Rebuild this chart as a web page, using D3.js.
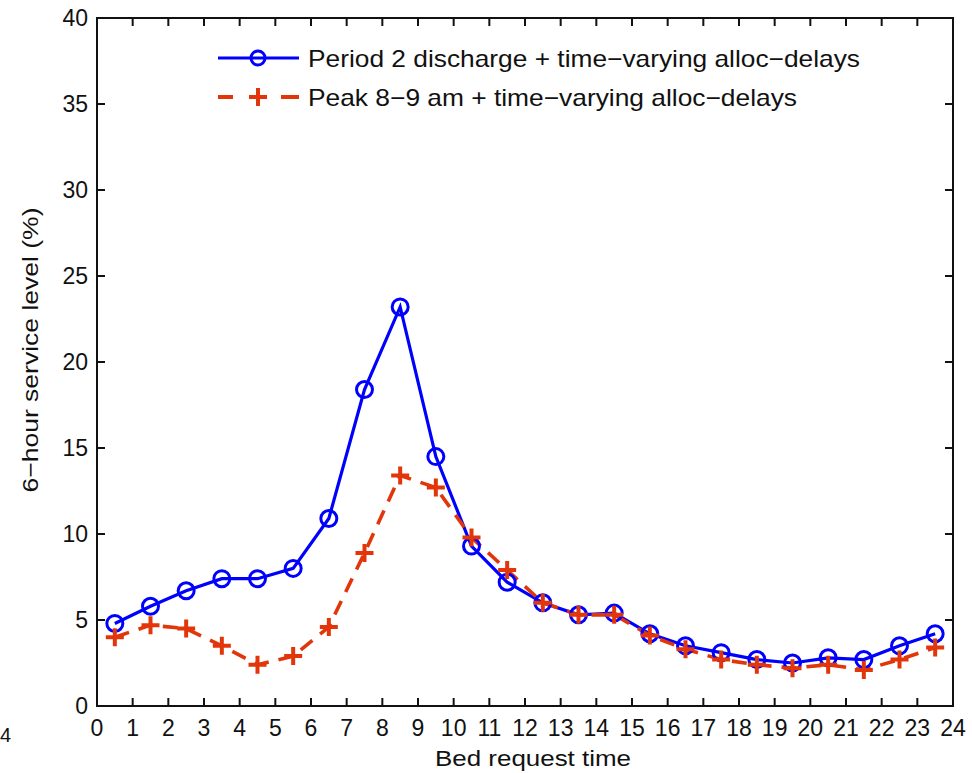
<!DOCTYPE html>
<html><head><meta charset="utf-8">
<script src="https://cdn.jsdelivr.net/npm/d3@7"></script>
<style>body{margin:0;background:#fff}svg{display:block}text{font-family:Arial,"Liberation Sans",sans-serif;fill:#111}</style>
</head><body><svg id="c" width="972" height="773"></svg>
<script>
const hours = [0.5,1.5,2.5,3.5,4.5,5.5,6.5,7.5,8.5,9.5,10.5,11.5,12.5,13.5,14.5,15.5,16.5,17.5,18.5,19.5,20.5,21.5,22.5,23.5];
const period2 = [4.8,5.8,6.7,7.4,7.4,8.0,10.9,18.4,23.2,14.5,9.3,7.2,6.0,5.3,5.4,4.2,3.5,3.1,2.7,2.5,2.8,2.7,3.5,4.2];
const peak89 = [4.0,4.7,4.5,3.5,2.4,2.9,4.6,8.9,13.4,12.7,9.8,7.9,6.0,5.3,5.3,4.1,3.3,2.7,2.4,2.2,2.4,2.1,2.7,3.4];
const xTicks = d3.range(0,25,1);
const yTicks = d3.range(0,41,5);
const legendLabels = ["Period 2 discharge + time\u2212varying alloc\u2212delays","Peak 8\u22129 am + time\u2212varying alloc\u2212delays"];
const xLabel = "Bed request time";
const yLabel = "6\u2212hour service level (%)";

const svg = d3.select("#c");
const L=97,R=953,T=18,B=706;
const x = d3.scaleLinear().domain([0,24]).range([L,R]);
const y = d3.scaleLinear().domain([0,40]).range([B,T]);
const blue="#0000ff", red="#e2360a";

// lines
const line = d3.line().x((d,i)=>x(hours[i])).y(d=>y(d));
svg.append("path").datum(period2).attr("d",line).attr("fill","none").attr("stroke",blue).attr("stroke-width",3.2);
svg.append("path").datum(peak89).attr("d",line).attr("fill","none").attr("stroke",red).attr("stroke-width",3.6).attr("stroke-dasharray","15,10");
// markers
svg.selectAll("circle.m").data(period2).join("circle").attr("class","m")
  .attr("cx",(d,i)=>x(hours[i])).attr("cy",d=>y(d)).attr("r",8).attr("fill","none").attr("stroke",blue).attr("stroke-width",3);
const plus = (g,cx,cy,s)=>{g.append("path").attr("d",`M${cx-s},${cy}H${cx+s}M${cx},${cy-s}V${cy+s}`).attr("stroke",red).attr("stroke-width",4).attr("fill","none");};
const pg = svg.append("g");
peak89.forEach((d,i)=>plus(pg,x(hours[i]),y(d),9));

// axes box
const ax = svg.append("g");
ax.append("rect").attr("x",L).attr("y",T).attr("width",R-L).attr("height",B-T).attr("fill","none").attr("stroke","#111").attr("stroke-width",2);
xTicks.forEach(t=>{
  ax.append("line").attr("x1",x(t)).attr("x2",x(t)).attr("y1",B).attr("y2",B-8).attr("stroke","#111").attr("stroke-width",2);
  ax.append("line").attr("x1",x(t)).attr("x2",x(t)).attr("y1",T).attr("y2",T+8).attr("stroke","#111").attr("stroke-width",2);
  ax.append("text").attr("x",x(t)).attr("y",736).attr("text-anchor","middle").attr("font-size",23).text(t);
});
yTicks.forEach(t=>{
  ax.append("line").attr("x1",L).attr("x2",L+8).attr("y1",y(t)).attr("y2",y(t)).attr("stroke","#111").attr("stroke-width",2);
  ax.append("line").attr("x1",R).attr("x2",R-8).attr("y1",y(t)).attr("y2",y(t)).attr("stroke","#111").attr("stroke-width",2);
  ax.append("text").attr("x",88).attr("y",y(t)+8).attr("text-anchor","end").attr("font-size",23).text(t);
});
svg.append("text").attr("x",533).attr("y",766).attr("text-anchor","middle").attr("font-size",22).attr("textLength",196).attr("lengthAdjust","spacingAndGlyphs").text(xLabel);
svg.append("text").attr("transform","translate(38,350) rotate(-90)").attr("text-anchor","middle").attr("font-size",22).attr("textLength",285).attr("lengthAdjust","spacingAndGlyphs").text(yLabel);
svg.append("text").attr("x",0).attr("y",742).attr("font-size",20).text("4");

// legend
const lg = svg.append("g");
lg.append("line").attr("x1",218).attr("x2",299).attr("y1",58).attr("y2",58).attr("stroke",blue).attr("stroke-width",3.2);
lg.append("circle").attr("cx",258).attr("cy",58).attr("r",7).attr("fill","none").attr("stroke",blue).attr("stroke-width",3);
lg.append("path").attr("d","M218,97H233M281,97H299").attr("stroke",red).attr("stroke-width",4);
plus(lg,258,97,9);
lg.append("text").attr("x",308).attr("y",67).attr("font-size",24).attr("textLength",552).attr("lengthAdjust","spacingAndGlyphs").text(legendLabels[0]);
lg.append("text").attr("x",308).attr("y",106).attr("font-size",24).attr("textLength",489).attr("lengthAdjust","spacingAndGlyphs").text(legendLabels[1]);
</script></body></html>
